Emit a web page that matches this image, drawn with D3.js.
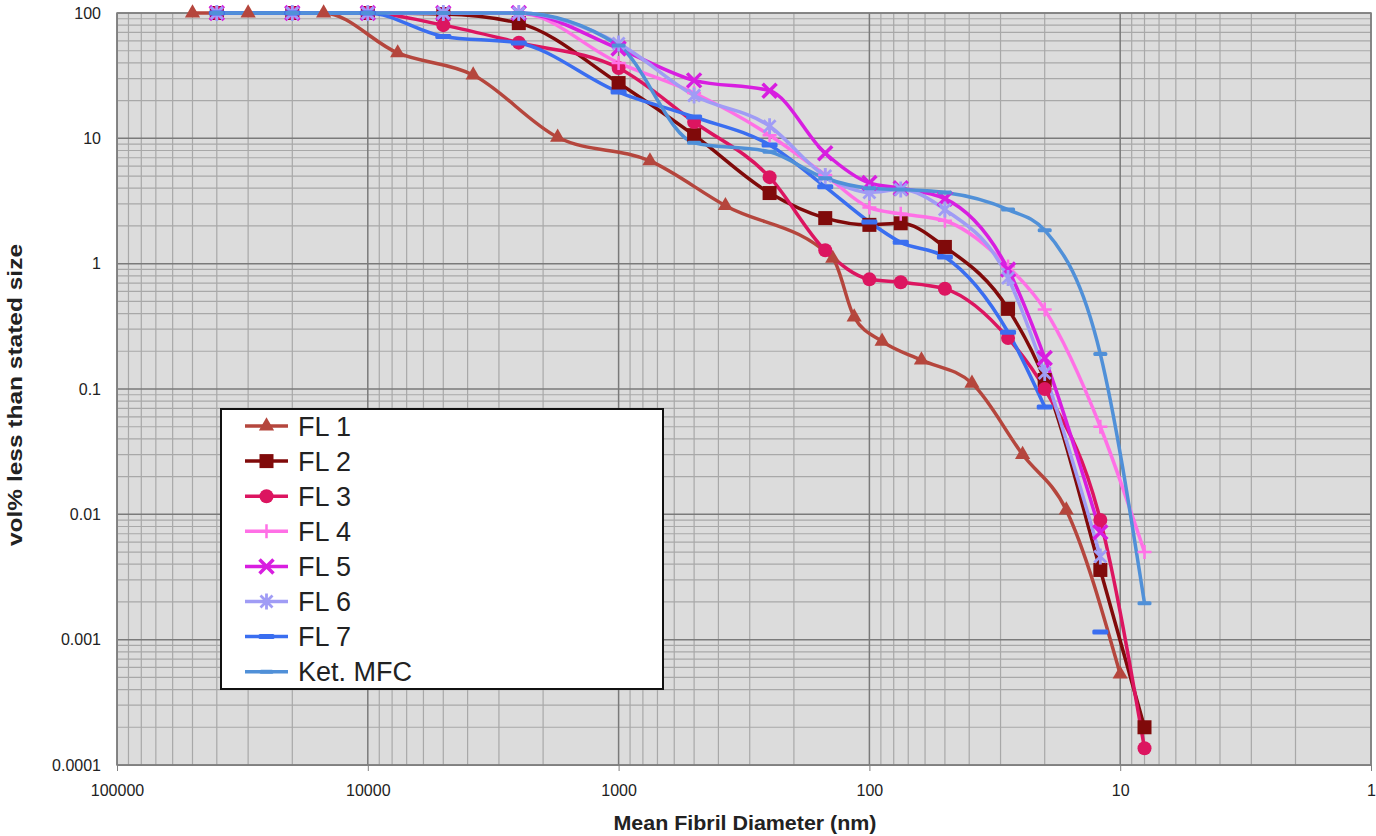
<!DOCTYPE html>
<html>
<head>
<meta charset="utf-8">
<script src="https://cdn.jsdelivr.net/npm/d3@7"></script>
<style>
  html, body { margin: 0; padding: 0; background: #fff; }
  svg { display: block; }
</style>
</head>
<body>
<svg id="chart" width="1376" height="836"></svg>
<script>
// ---------- DATA ----------
const xTickValues = [100000, 10000, 1000, 100, 10, 1];
const xTickLabels = ["100000", "10000", "1000", "100", "10", "1"];
const yTickValues = [100, 10, 1, 0.1, 0.01, 0.001, 0.0001];
const yTickLabels = ["100", "10", "1", "0.1", "0.01", "0.001", "0.0001"];

const seriesNames = ["FL 1", "FL 2", "FL 3", "FL 4", "FL 5", "FL 6", "FL 7", "Ket. MFC"];

const diamFL1 = [50000, 30000, 15000, 7600, 3800, 1750, 750, 375, 140, 115, 89, 62, 39, 24.5, 16.4, 10];
const fl1 = [100, 100, 100, 48, 32, 10.2, 6.6, 2.9, 1.1, 0.375, 0.24, 0.17, 0.111, 0.03, 0.0108, 0.00053];

const diam = [40000, 20000, 10000, 5000, 2500, 1000, 500, 250, 150, 100, 75, 50, 28, 20, 12, 8];
const fl2 = [100, 100, 100, 98, 83, 27.6, 10.6, 3.66, 2.31, 2.04, 2.1, 1.36, 0.436, 0.118, 0.0036, 0.0002];
const fl3 = [100, 100, 100, 80, 58, 36.4, 13.5, 4.9, 1.28, 0.75, 0.71, 0.63, 0.255, 0.1, 0.009, 0.000136];
const fl4 = [100, 100, 100, 100, 100, 40, 23, 10.6, 5.1, 2.8, 2.5, 2.2, 0.95, 0.43, 0.05, 0.005];
const fl5 = [100, 100, 100, 100, 100, 52, 29, 24, 7.6, 4.4, 4.0, 3.3, 0.9, 0.177, 0.0072, null];
const fl6 = [100, 100, 100, 100, 100, 57, 22, 12.5, 5.0, 3.7, 3.9, 2.7, 0.77, 0.134, 0.0046, null];
const ket = [100, 100, 100, 100, 100, 55, 9.2, 7.8, 4.8, 4.0, 3.9, 3.7, 2.7, 1.85, 0.19, 0.00195];

const diamFL7 = [40000, 20000, 10000, 5000, 2500, 1000, 500, 250, 150, 100, 75, 50, 28, 20, 15, 12];
const fl7 = [100, 100, 100, 65, 57.6, 23.4, 14.8, 8.85, 4.1, 2.15, 1.48, 1.13, 0.284, 0.072, null, 0.00115];

// ---------- STYLE ----------
const colors = ["#b5463d", "#800a0a", "#dc1560", "#ff70e6", "#d81ee0", "#a09cf5", "#3a6ef0", "#5090d8"];
const markers = ["triangle", "square", "circle", "plus", "cross", "asterisk", "dash", "dashThin"];

const series = [
  { x: diamFL1, y: fl1 },
  { x: diam, y: fl2 },
  { x: diam, y: fl3 },
  { x: diam, y: fl4 },
  { x: diam, y: fl5 },
  { x: diam, y: fl6 },
  { x: diamFL7, y: fl7 },
  { x: diam, y: ket }
].map((s, i) => ({
  name: seriesNames[i], color: colors[i], marker: markers[i],
  points: s.x.map((d, j) => ({ d: d, v: s.y[j] }))
}));

const svg = d3.select("#chart");
const pL = 117, pR = 1371, pT = 13, pB = 765;

const x = d3.scaleLog().domain([100000, 1]).range([pL, pR]);
const y = d3.scaleLog().domain([0.0001, 100]).range([pB, pT]);

// Background
svg.append("rect").attr("x", pL).attr("y", pT).attr("width", pR - pL).attr("height", pB - pT)
  .attr("fill", "#dcdcdc");

// Grid lines
const grid = svg.append("g");
const minorX = [], minorY = [];
for (let e = 0; e < 5; e++) for (let k = 2; k <= 9; k++) minorX.push(k * Math.pow(10, e));
for (let e = -4; e < 2; e++) for (let k = 2; k <= 9; k++) minorY.push(k * Math.pow(10, e));
grid.selectAll(".mx").data(minorX).join("line")
  .attr("x1", d => x(d)).attr("x2", d => x(d)).attr("y1", pT).attr("y2", pB)
  .attr("stroke", "#a8a8a8").attr("stroke-width", 1.2);
grid.selectAll(".my").data(minorY).join("line")
  .attr("x1", pL).attr("x2", pR).attr("y1", d => y(d)).attr("y2", d => y(d))
  .attr("stroke", "#a8a8a8").attr("stroke-width", 1.2);
grid.selectAll(".Mx").data(xTickValues).join("line")
  .attr("x1", d => x(d)).attr("x2", d => x(d)).attr("y1", pT).attr("y2", pB)
  .attr("stroke", "#7a7a7a").attr("stroke-width", 1.5);
grid.selectAll(".My").data(yTickValues).join("line")
  .attr("x1", pL).attr("x2", pR).attr("y1", d => y(d)).attr("y2", d => y(d))
  .attr("stroke", "#7a7a7a").attr("stroke-width", 1.5);
svg.append("rect").attr("x", pL).attr("y", pT).attr("width", pR - pL).attr("height", pB - pT)
  .attr("fill", "none").attr("stroke", "#808080").attr("stroke-width", 1.5);

// Axes
const xAxis = d3.axisBottom(x).tickValues(xTickValues).tickSize(6).tickPadding(14)
  .tickFormat((d, i) => xTickLabels[i]);
const gx = svg.append("g").attr("transform", `translate(0,${pB})`).call(xAxis);
gx.select(".domain").attr("stroke", "#808080");
gx.selectAll(".tick line").attr("stroke", "#808080");
gx.selectAll("text").attr("font-family", "'Liberation Sans Narrow','Arial Narrow','Liberation Sans',Arial,sans-serif")
  .attr("font-size", 16).attr("fill", "#222");

const yAxis = d3.axisLeft(y).tickValues(yTickValues).tickSize(0).tickPadding(16)
  .tickFormat((d, i) => yTickLabels[i]);
const gy = svg.append("g").attr("transform", `translate(${pL},0)`).call(yAxis);
gy.select(".domain").attr("stroke", "#808080");
gy.selectAll("text").attr("font-family", "'Liberation Sans',Arial,sans-serif")
  .attr("font-size", 16).attr("fill", "#222");

// Axis titles
svg.append("text").attr("x", 745).attr("y", 830).attr("text-anchor", "middle")
  .attr("font-family", "'Liberation Sans',Arial,sans-serif").attr("font-weight", "bold")
  .attr("font-size", 20).attr("fill", "#222")
  .attr("textLength", 263).attr("lengthAdjust", "spacingAndGlyphs")
  .text("Mean Fibril Diameter (nm)");
svg.append("text").attr("transform", `translate(22,${395}) rotate(-90)`)
  .attr("text-anchor", "middle")
  .attr("font-family", "'Liberation Sans',Arial,sans-serif").attr("font-weight", "bold")
  .attr("font-size", 20).attr("fill", "#222")
  .attr("textLength", 302).attr("lengthAdjust", "spacingAndGlyphs")
  .text("vol% less than stated size");

// Marker drawing
function drawMarker(g, type, color) {
  switch (type) {
    case "triangle":
      g.append("path").attr("d", d3.symbol(d3.symbolTriangle, 100)()).attr("fill", color); break;
    case "square":
      g.append("rect").attr("x", -7).attr("y", -7).attr("width", 14).attr("height", 14).attr("fill", color); break;
    case "circle":
      g.append("circle").attr("r", 7).attr("fill", color); break;
    case "plus":
      g.append("path").attr("d", "M-7,0H7M0,-7V7").attr("stroke", color).attr("stroke-width", 2.5); break;
    case "cross":
      g.append("path").attr("d", "M-7,-7L7,7M-7,7L7,-7").attr("stroke", color).attr("stroke-width", 3.5); break;
    case "asterisk":
      g.append("path").attr("d", "M-6,-6L6,6M-6,6L6,-6M0,-8V8").attr("stroke", color).attr("stroke-width", 2.8); break;
    case "dash":
      g.append("rect").attr("x", -8).attr("y", -2.5).attr("width", 16).attr("height", 5).attr("rx", 1.5).attr("fill", color); break;
    case "dashThin":
      g.append("rect").attr("x", -7).attr("y", -2).attr("width", 14).attr("height", 4).attr("rx", 1.5).attr("fill", color); break;
  }
}

// Lines + markers
const lineGen = d3.line().defined(p => p.v != null).x(p => x(p.d)).y(p => y(p.v))
  .curve(d3.curveMonotoneX);
const plot = svg.append("g");
series.forEach(s => {
  plot.append("path").datum(s.points).attr("d", lineGen).attr("fill", "none")
    .attr("stroke", s.color).attr("stroke-width", 3.5).attr("stroke-linejoin", "round");
});
series.forEach(s => {
  s.points.filter(p => p.v != null).forEach(p => {
    const g = plot.append("g").attr("transform", `translate(${x(p.d)},${y(p.v)})`);
    drawMarker(g, s.marker, s.color);
  });
});

// Legend
const lg = svg.append("g");
lg.append("rect").attr("x", 221).attr("y", 409).attr("width", 442).attr("height", 280)
  .attr("fill", "#fff").attr("stroke", "#111").attr("stroke-width", 2);
series.forEach((s, i) => {
  const cy = 426 + i * 35.1;
  lg.append("line").attr("x1", 245).attr("x2", 288).attr("y1", cy).attr("y2", cy)
    .attr("stroke", s.color).attr("stroke-width", 3.5);
  const g = lg.append("g").attr("transform", `translate(266.5,${cy})`);
  drawMarker(g, s.marker, s.color);
  lg.append("text").attr("x", 298).attr("y", cy + 9.5)
    .attr("font-family", "'Liberation Sans',Arial,sans-serif").attr("font-size", 27).attr("fill", "#222")
    .text(s.name);
});
</script>
</body>
</html>
